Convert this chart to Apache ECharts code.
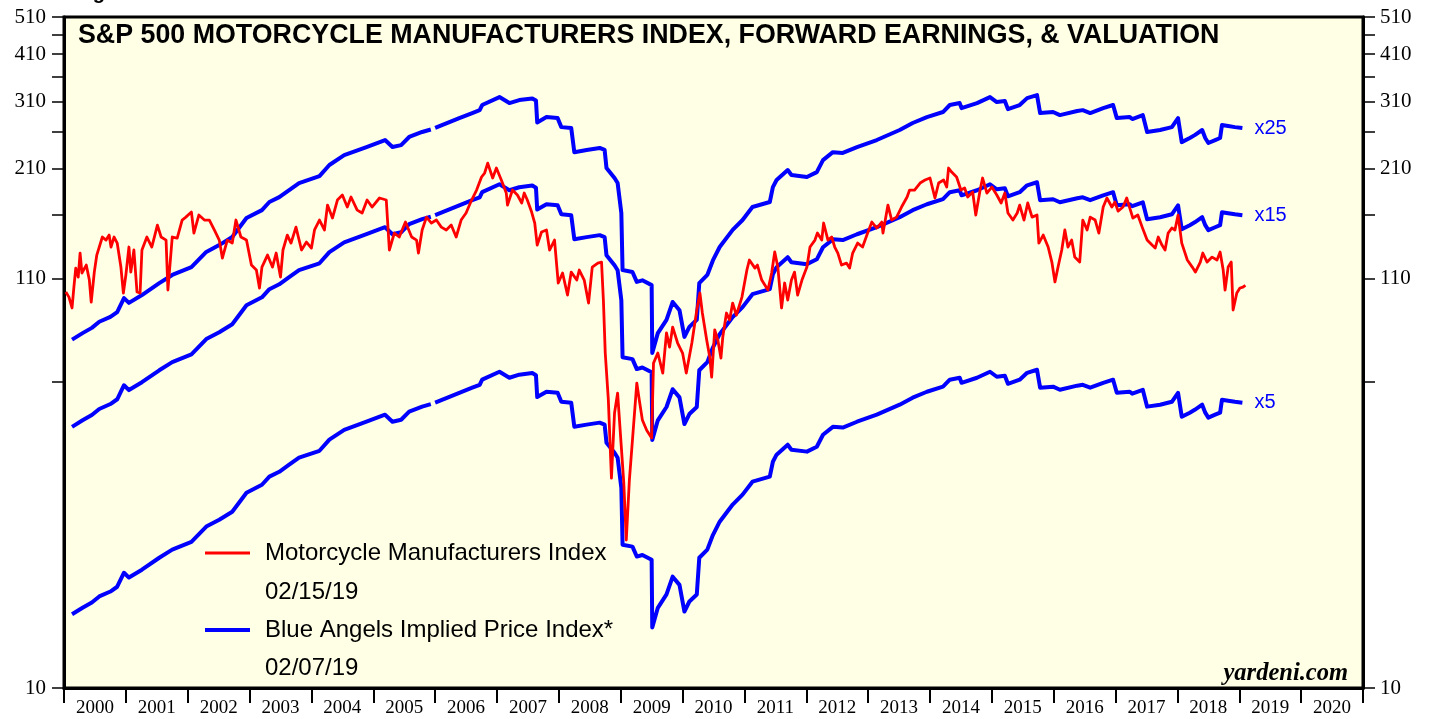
<!DOCTYPE html>
<html><head><meta charset="utf-8">
<script src="https://cdn.jsdelivr.net/npm/echarts@6/dist/echarts.min.js"></script>
<style>html,body{margin:0;padding:0;background:#fff}#c{width:1429px;height:719px}</style>
</head><body><div id="c"></div>
<script>
// ---------- DATA ----------
const motoYears = [
2000.03,2000.08,2000.13,2000.16,2000.19,2000.23,2000.26,2000.29,2000.36,2000.41,2000.44,2000.49,2000.53,2000.62,2000.68,2000.73,2000.76,2000.81,2000.86,2000.92,2000.96,
2001.00,2001.05,2001.08,2001.13,2001.18,2001.23,2001.26,2001.34,2001.42,2001.51,2001.57,2001.65,2001.68,2001.75,2001.83,2001.91,2001.97,
2002.06,2002.10,2002.18,2002.27,2002.35,2002.43,2002.51,2002.56,2002.64,2002.72,2002.78,2002.86,2002.95,
2003.03,2003.11,2003.16,2003.20,2003.29,2003.37,2003.43,2003.50,2003.54,2003.61,2003.67,2003.75,2003.84,2003.92,
2004.00,2004.05,2004.13,2004.21,2004.26,2004.34,2004.42,2004.50,2004.58,2004.64,2004.74,2004.82,2004.90,2004.98,
2005.10,2005.21,2005.26,2005.34,2005.42,2005.52,2005.62,2005.70,2005.73,2005.79,2005.86,2005.94,
2006.02,2006.10,2006.18,2006.26,2006.34,2006.42,2006.50,2006.59,2006.67,2006.75,2006.80,2006.85,2006.93,2006.99,
2007.07,2007.15,2007.17,2007.25,2007.33,2007.40,2007.44,2007.49,2007.56,2007.61,2007.65,2007.72,2007.80,2007.85,2007.93,2007.99,
2008.06,2008.14,2008.20,2008.29,2008.33,2008.41,2008.48,2008.54,2008.63,2008.69,2008.72,2008.75,2008.80,2008.85,2008.90,2008.95,
2009.01,2009.05,2009.09,2009.14,2009.19,2009.26,2009.30,2009.35,2009.42,2009.50,2009.53,2009.60,2009.68,2009.74,2009.79,2009.84,2009.92,
2010.00,2010.06,2010.15,2010.23,2010.28,2010.32,2010.39,2010.44,2010.47,2010.52,2010.57,2010.62,2010.65,2010.71,2010.76,2010.81,2010.87,2010.96,
2011.04,2011.08,2011.17,2011.21,2011.28,2011.38,2011.44,2011.49,2011.54,2011.60,2011.65,2011.70,2011.76,2011.81,2011.86,2011.93,
2012.01,2012.06,2012.14,2012.18,2012.25,2012.28,2012.35,2012.41,2012.46,2012.51,2012.57,2012.65,2012.70,2012.75,2012.83,2012.91,2012.98,
2013.06,2013.14,2013.22,2013.24,2013.32,2013.38,2013.46,2013.54,2013.63,2013.67,2013.75,2013.84,2013.92,
2014.00,2014.08,2014.14,2014.22,2014.27,2014.30,2014.35,2014.43,2014.50,2014.56,2014.61,2014.69,2014.74,2014.81,2014.85,2014.92,
2015.00,2015.08,2015.15,2015.21,2015.26,2015.34,2015.41,2015.45,2015.52,2015.58,2015.65,2015.73,2015.76,2015.83,2015.91,2015.97,
2016.02,2016.07,2016.13,2016.18,2016.23,2016.29,2016.34,2016.42,2016.47,2016.54,2016.59,2016.67,2016.73,2016.80,2016.86,2016.94,2016.99,
2017.04,2017.12,2017.18,2017.23,2017.28,2017.36,2017.43,2017.51,2017.59,2017.64,2017.69,2017.75,2017.80,2017.85,2017.91,2017.96,
2018.01,2018.07,2018.16,2018.24,2018.29,2018.37,2018.41,2018.48,2018.56,2018.64,2018.69,2018.74,2018.77,2018.82,2018.87,2018.90,2018.96,
2019.01,2019.06,2019.10
];
const motoValues = [
101.8,98.8,92.7,104.8,117.1,111.1,127.9,113.8,119.2,109.2,96.0,114.4,126.4,140.5,138.0,142.1,132.5,140.5,135.6,117.8,101.2,
112.4,132.5,114.4,130.2,101.8,101.2,130.2,140.5,132.5,150.7,140.5,138.0,103.0,140.5,139.6,155.2,157.9,
162.6,143.8,159.8,155.2,155.2,146.4,138.0,124.2,138.0,135.6,155.2,140.5,138.0,
119.2,115.8,104.2,117.8,126.4,117.8,127.9,111.1,130.2,142.1,135.6,148.9,130.2,136.4,
131.7,146.4,155.2,146.4,169.4,157.0,174.5,179.7,167.5,177.6,164.5,161.7,174.5,167.5,
176.6,174.5,130.2,143.8,140.5,153.4,140.5,138.0,127.9,146.4,157.9,152.5,
155.2,148.9,146.4,150.7,140.5,155.2,161.7,174.5,185.0,199.7,204.4,216.7,198.5,210.5,
196.2,181.8,169.4,185.0,179.7,171.5,181.8,174.5,162.6,152.5,134.0,144.7,146.4,130.2,138.0,107.3,
113.8,100.0,114.4,109.2,115.8,109.2,95.4,117.8,120.6,121.3,97.1,71.2,54.1,34.2,50.1,56.3,
41.0,33.2,23.8,33.8,42.8,59.7,54.1,48.1,45.3,43.3,67.1,71.2,63.3,80.1,73.7,82.9,75.5,
71.2,63.3,75.5,91.6,101.2,90.0,76.8,69.5,61.8,81.5,76.8,69.1,78.2,90.0,86.4,95.4,88.9,98.8,
115.8,122.8,117.1,119.2,109.2,103.0,113.8,128.7,117.8,92.7,107.3,97.1,109.2,114.4,100.0,109.2,
117.8,132.5,138.0,143.8,138.0,152.5,138.0,140.5,132.5,127.9,119.2,120.6,117.1,127.9,135.6,132.5,142.1,
153.4,148.1,153.4,143.8,169.4,155.2,157.9,167.5,177.6,185.0,185.0,192.8,196.2,
198.5,176.6,192.8,196.2,188.3,210.5,205.6,199.7,185.0,187.2,177.6,182.9,159.8,185.0,198.5,181.8,
188.3,179.7,171.5,181.8,161.7,155.2,161.7,169.4,155.2,171.5,157.9,159.8,135.6,142.1,132.5,121.3,
108.0,117.8,130.2,146.4,132.5,138.0,124.9,121.3,155.2,146.4,157.9,155.2,143.8,167.5,176.6,167.5,172.4,
163.5,167.5,176.6,166.5,157.0,159.8,148.9,138.0,134.0,131.7,140.5,134.0,130.2,143.8,148.1,146.4,
159.8,135.6,122.8,117.8,114.4,121.3,127.9,121.3,124.9,122.8,128.7,115.8,103.0,117.8,121.3,91.6,101.2,
104.2,104.8,105.8
];
// Forward earnings (null = break in the series)
const earnYears = [
2000.13,2000.30,2000.45,2000.57,2000.75,2000.86,2000.97,2001.05,2001.26,2001.54,2001.75,
2002.06,2002.30,2002.51,2002.72,2002.95,2003.20,2003.32,2003.48,2003.64,2003.80,
2004.13,2004.29,2004.53,2004.89,2005.19,2005.31,2005.45,2005.58,2005.79,2005.93,2005.96,
2006.00,2006.39,2006.60,2006.72,2006.76,2007.04,2007.20,2007.36,2007.57,2007.63,2007.65,2007.80,2007.98,
2008.04,2008.20,2008.25,2008.45,2008.66,2008.74,2008.77,2008.90,2008.95,
2009.01,2009.03,2009.19,2009.26,2009.35,2009.50,2009.51,2009.60,2009.74,2009.84,2009.95,
2010.03,2010.11,2010.23,2010.27,2010.40,2010.49,2010.60,2010.81,2010.97,
2011.13,2011.41,2011.46,2011.52,2011.70,2011.76,2012.01,2012.17,2012.27,2012.43,2012.59,2012.82,
2013.14,2013.51,2013.72,2013.95,2014.21,2014.32,2014.48,2014.51,2014.76,2014.97,
2015.08,2015.21,2015.26,2015.45,2015.57,2015.73,2015.78,2015.99,2016.10,2016.38,2016.47,2016.59,2016.80,2016.96,
2017.02,2017.23,2017.27,2017.44,2017.51,2017.72,2017.91,2018.01,2018.07,2018.20,2018.28,2018.40,2018.45,2018.50,
2018.61,2018.69,2018.72,2018.82,2018.93,2019.05
];
const earnValues = [
3.08,3.20,3.30,3.42,3.52,3.62,3.93,3.82,4.00,4.29,4.50,
4.71,5.15,5.36,5.62,6.28,6.58,6.90,7.10,7.40,7.71,
8.03,8.57,9.08,9.52,9.92,9.52,9.63,10.10,10.40,10.55,null,
10.65,11.28,11.62,11.82,12.18,12.76,12.32,12.54,12.66,12.50,11.00,11.35,11.28,
10.70,10.64,9.24,9.36,9.47,9.36,8.42,7.94,7.71,
6.47,4.63,4.58,4.32,4.36,4.24,2.85,3.20,3.46,3.84,3.66,
3.13,3.32,3.46,4.29,4.50,4.90,5.30,5.86,6.21,
6.70,6.90,7.53,7.85,8.32,8.08,7.99,8.22,8.82,9.24,9.20,9.52,
9.92,10.52,10.96,11.35,11.69,12.18,12.32,11.96,12.32,12.76,
12.39,12.47,11.89,12.18,12.68,12.91,11.62,11.69,11.48,11.76,11.82,11.62,11.96,12.18,
11.28,11.35,11.22,11.48,10.40,10.52,10.70,11.28,9.80,10.04,10.21,10.52,10.04,9.75,
9.92,10.04,10.83,10.77,10.70,10.64
];
const multiples = [25, 15, 5];
const yTickValues = [10,60,110,160,210,260,310,360,410,460,510];
const yLabelValues = [10,110,210,310,410,510];
const xTickYears = [2000,2001,2002,2003,2004,2005,2006,2007,2008,2009,2010,2011,2012,2013,2014,2015,2016,2017,2018,2019,2020,2021];
const xLabelYears = [2000,2001,2002,2003,2004,2005,2006,2007,2008,2009,2010,2011,2012,2013,2014,2015,2016,2017,2018,2019,2020];

// ---------- CHART ----------
const L = Math.log10;
const chart = echarts.init(document.getElementById('c'), null, {renderer: 'canvas'});
const SERIF = '"Liberation Serif", "Times New Roman", serif';
const SANS = '"Liberation Sans", Arial, sans-serif';

const blueSeries = multiples.map(m => ({
  type: 'line', name: 'x' + m, symbol: 'none', showSymbol: false, z: 2,
  data: earnYears.map((t, i) => earnValues[i] == null ? [t, '-'] : [t, L(m * earnValues[i])]),
  lineStyle: {color: '#0000FF', width: 4, join: 'round'},
  itemStyle: {color: '#0000FF'},
  endLabel: {show: true, formatter: 'x' + m, color: '#0000FF', fontSize: 20, fontFamily: SANS, distance: 12},
  silent: true
}));

const redSeries = {
  type: 'line', name: 'Motorcycle Manufacturers Index', symbol: 'none', showSymbol: false, z: 3,
  data: motoYears.map((t, i) => [t, L(motoValues[i])]),
  lineStyle: {color: '#FF0000', width: 2.8, join: 'round'},
  itemStyle: {color: '#FF0000'},
  silent: true
};

function yAxisDef(pos) {
  return {
    type: 'value', position: pos, min: 1, max: L(510),
    axisLine: {show: true, lineStyle: {color: '#000', width: 3}},
    axisTick: {show: true, customValues: yTickValues.map(L), length: 12, lineStyle: {color: '#000', width: 1.5}},
    axisLabel: {show: true, customValues: yLabelValues.map(L),
      formatter: v => String(Math.round(Math.pow(10, v))),
      fontFamily: SERIF, fontSize: 21, color: '#000', margin: pos === 'left' ? 18 : 17},
    splitLine: {show: false}
  };
}

const option = {
  animation: false,
  backgroundColor: '#ffffff',
  grid: {left: 64, right: 66, top: 17, bottom: 31, show: true, backgroundColor: '#FFFFE6', borderColor: '#000', borderWidth: 3},
  xAxis: {
    type: 'value', min: 2000, max: 2021,
    axisLine: {show: true, lineStyle: {color: '#000', width: 3}},
    axisTick: {show: true, customValues: xTickYears, length: 15, lineStyle: {color: '#000', width: 2}},
    axisLabel: {show: true, customValues: xLabelYears.map(y => y + 0.5),
      formatter: v => String(Math.floor(v + 1e-6)),
      fontFamily: SERIF, fontSize: 19, color: '#000', margin: 11},
    splitLine: {show: false}
  },
  yAxis: [yAxisDef('left'), yAxisDef('right')],
  series: [...blueSeries, redSeries],
  graphic: [
    {type: 'text', x: 75, y: -17, z: 10, style: {text: 'Figure 1.', font: 'bold 20px ' + SANS, fill: '#000', verticalAlign: 'top'}},
    {type: 'text', x: 78, y: 36, z: 10, style: {text: 'S&P 500 MOTORCYCLE MANUFACTURERS INDEX, FORWARD EARNINGS, & VALUATION', font: 'bold 26.8px ' + SANS, fill: '#000', verticalAlign: 'middle'}},
    {type: 'line', z: 10, shape: {x1: 205, y1: 553, x2: 250, y2: 553}, style: {stroke: '#FF0000', lineWidth: 2.8}},
    {type: 'text', x: 265, y: 553, z: 10, style: {text: 'Motorcycle Manufacturers Index', font: '24px ' + SANS, fill: '#000', verticalAlign: 'middle'}},
    {type: 'text', x: 265, y: 592, z: 10, style: {text: '02/15/19', font: '24px ' + SANS, fill: '#000', verticalAlign: 'middle'}},
    {type: 'line', z: 10, shape: {x1: 205, y1: 630, x2: 250, y2: 630}, style: {stroke: '#0000FF', lineWidth: 4}},
    {type: 'text', x: 265, y: 630, z: 10, style: {text: 'Blue Angels Implied Price Index*', font: '24px ' + SANS, fill: '#000', verticalAlign: 'middle'}},
    {type: 'text', x: 265, y: 668, z: 10, style: {text: '02/07/19', font: '24px ' + SANS, fill: '#000', verticalAlign: 'middle'}},
    {type: 'text', x: 1348, y: 674, z: 10, style: {text: 'yardeni.com', font: 'italic bold 24.5px ' + SERIF, fill: '#000', align: 'right', verticalAlign: 'middle'}}
  ]
};
chart.setOption(option);
</script>
</body></html>
